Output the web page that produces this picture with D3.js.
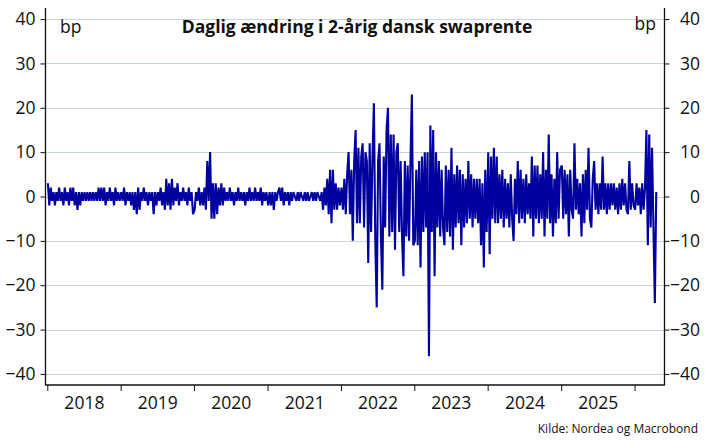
<!DOCTYPE html>
<html>
<head>
<meta charset="utf-8">
<script src="https://cdn.jsdelivr.net/npm/d3@7"></script>
<style>
  html, body { margin: 0; padding: 0; background: #ffffff; }
  svg { display: block; }
  text { font-family: "Open Sans", "Noto Sans", sans-serif; fill: #111; }
</style>
</head>
<body>
<svg id="chart" width="710" height="448"></svg>
<script>
// ---- data (bp, approx weekly readings of daily changes) ----
const title = "Daglig ændring i 2-årig dansk swaprente";
const unitLabel = "bp";
const sourceText = "Kilde: Nordea og Macrobond";
const yTicks = [40, 30, 20, 10, 0, -10, -20, -30, -40];
const years = [2018, 2019, 2020, 2021, 2022, 2023, 2024, 2025, 2026];
const yearLabels = ["2018", "2019", "2020", "2021", "2022", "2023", "2024", "2025"];

const v2018 = [3,-2,2,-1,1,-2,1,-1,2,-1, 1,-2,2,-1,1,-2,2,-1,2,-2, 1,-3,1,-2,1,-1,1,-1,1,-1, 1,-1,1,-1,1,-1,2,-1,2,-1, 2,-2,1,-1,2,-1,1,-2,2,-1, 1,-1];
const v2019 = [1,-1,2,-2,1,-1,1,-2,1,-3, 1,-4,2,-3,1,-1,2,-1,1,-2, 1,-1,1,-4,1,-2,1,-1,2,-2, 1,-3,4,-2,3,-3,4,-2,2,-1, 3,-2,1,-1,2,-1,1,-2,2,-1, 1,-4];
const v2020 = [-3,1,-1,2,-2,1,-2,2,-3,8, -1,10,-5,3,-5,3,-4,2,-2,3, -2,2,-1,1,-1,2,-1,1,-2,1, -1,2,-1,1,-1,1,-2,1,-1,2, -1,1,-1,2,-1,1,-1,2,-2,1, -1,1];
const v2021 = [-2,1,-2,1,-3,1,-1,1,2,-1, 2,-2,1,-1,1,-2,1,-1,1,0, -1,1,-1,1,0,-1,1,-1,1,-1, 0,1,-1,1,-1,1,0,-1,1,-3, 2,-2,4,-4,6,-6,6,-3,3,-3, 2,-2];
const v2022 = [2,-3,4,-4,5,10,-4,6,-10,8, 15,-6,11,-6,9,12,-7,10,8,-15, 12,-8,9,21,-10,-25,8,12,-9,-21, 9,-7,15,20,-9,14,-8,14,-12,10, 12,-8,8,-9,-18,8,-9,7,-10,8, 23,-11];
const v2023 = [-10,6,-11,8,-16,9,-8,10,-7,10, -36,16,-8,15,-18,10,-7,8,-9,6, -7,-11,7,-8,6,-9,11,-12,5,-7, 7,-6,6,-11,5,-7,4,-6,8,-5, 5,-7,4,-5,4,-6,4,-11,3,-16, 6,-8];
const v2024 = [10,-13,9,-5,11,-6,9,-6,5,-5, 6,-7,4,-5,3,-7,5,-5,-10,4, -4,8,-6,6,-5,4,-6,5,-4,3, -5,9,-9,7,-5,7,-6,5,-5,10, -9,6,-5,14,-6,5,-9,4,-6,10, -5,6];
const v2025 = [7,-5,6,-4,5,-9,6,-3,-5,12, -3,4,-4,3,-9,5,-6,6,-3,11, -5,-7,4,8,-3,3,-4,3,-3,9, -3,3,-4,3,-3,3,-2,3,-3,2, -4,3,-3,4,-2,3,-3,-4,8,-3, 3,-2];
const v2026 = [-3,3,-2,2,-4,3,-3,2,15,-11, 14,-7,11,-7,-24,1];

const seriesByYear = [v2018, v2019, v2020, v2021, v2022, v2023, v2024, v2025, v2026];

// ---- build points: weekly readings within each year ----
const data = [];
seriesByYear.forEach((vals, k) => {
  const start = new Date(years[k], 0, 1);
  vals.forEach((v, i) => {
    data.push({ date: d3.timeDay.offset(start, 7 * i + 3), value: v });
  });
});

// ---- layout ----
const svg = d3.select("#chart");
const mLeft = 45.5, mRight = 664.5, mTop = 8, mBottom = 385;

const x = d3.scaleTime()
  .domain([new Date(2017, 11, 23), new Date(2026, 4, 30)])
  .range([mLeft, mRight]);
const y = d3.scaleLinear()
  .domain([-42.5, 42.5])
  .range([mBottom, mTop]);

// gridlines
svg.append("g").selectAll("line")
  .data(yTicks)
  .join("line")
  .attr("x1", mLeft).attr("x2", mRight)
  .attr("y1", d => Math.round(y(d)) + 0.5).attr("y2", d => Math.round(y(d)) + 0.5)
  .attr("stroke", "#c8d5dc").attr("stroke-width", 1);

// line
const line = d3.line()
  .x(d => x(d.date))
  .y(d => y(d.value));
svg.append("path")
  .datum(data)
  .attr("d", line)
  .attr("fill", "none")
  .attr("stroke", "#0000a0")
  .attr("stroke-width", 2.1)
  .attr("stroke-linejoin", "miter")
  .attr("stroke-miterlimit", 2);

// axes
const axisColor = "#111";
const leftAxis = svg.append("g")
  .attr("transform", `translate(${mLeft},0)`)
  .call(d3.axisLeft(y).tickValues(yTicks).tickSize(5).tickPadding(5).tickFormat(d3.format("d")));
const rightAxis = svg.append("g")
  .attr("transform", `translate(${mRight},0)`)
  .call(d3.axisRight(y).tickValues(yTicks).tickSize(5).tickPadding(5).tickFormat(d3.format("d")));
rightAxis.selectAll("text").attr("text-anchor", "end").attr("x", 700 - mRight);

const yearStarts = years.map(yr => new Date(yr, 0, 1));
const bottomAxis = svg.append("g")
  .attr("transform", `translate(0,${mBottom})`)
  .call(d3.axisBottom(x).tickValues(yearStarts).tickSize(6).tickFormat(""));
const midYears = yearLabels.map(s => new Date(+s, 6, 2));
const labelAxis = svg.append("g")
  .attr("transform", `translate(0,${mBottom})`)
  .call(d3.axisBottom(x).tickValues(midYears).tickSize(0).tickPadding(12).tickFormat(d3.timeFormat("%Y")));

[leftAxis, rightAxis, bottomAxis, labelAxis].forEach(g => {
  g.select(".domain").remove();
  g.selectAll(".tick line").attr("stroke", axisColor);
  g.selectAll("text").attr("font-size", 17.5).attr("fill", "#111")
    .attr("font-family", "'Open Sans', 'Noto Sans', sans-serif");
});

// axis frame lines
svg.append("line").attr("x1", mLeft).attr("x2", mLeft).attr("y1", mTop).attr("y2", mBottom + 0.5)
  .attr("stroke", axisColor).attr("stroke-width", 1.3);
svg.append("line").attr("x1", mRight).attr("x2", mRight).attr("y1", mTop).attr("y2", mBottom + 0.5)
  .attr("stroke", axisColor).attr("stroke-width", 1.3);
svg.append("line").attr("x1", mLeft).attr("x2", mRight).attr("y1", mBottom).attr("y2", mBottom)
  .attr("stroke", axisColor).attr("stroke-width", 1.3);

// texts
svg.append("text").attr("x", 357).attr("y", 33).attr("text-anchor", "middle")
  .attr("font-size", 17.5).attr("font-weight", "bold").text(title);
svg.append("text").attr("x", 60).attr("y", 33).attr("font-size", 17.5).text(unitLabel);
svg.append("text").attr("x", 656).attr("y", 29.5).attr("text-anchor", "end").attr("font-size", 17.5).text(unitLabel);
svg.append("text").attr("x", 698).attr("y", 433).attr("text-anchor", "end").attr("font-size", 12).text(sourceText);
</script>
</body>
</html>
